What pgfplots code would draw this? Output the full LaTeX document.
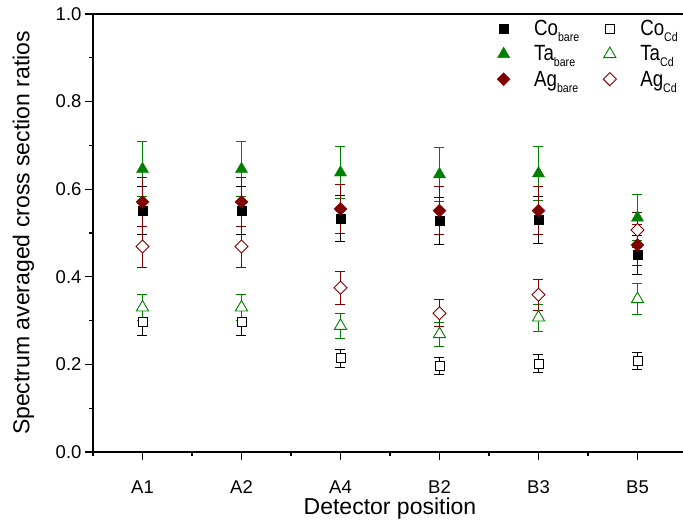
\documentclass[border=0pt]{standalone}
\usepackage{pgfplots}
\usepackage{pgfplotstable}
\pgfplotsset{compat=1.18}
\usepackage{fontspec}
\setmainfont{Liberation Sans}
\newfontfamily\legfont[FakeStretch=0.85]{Liberation Sans}
\definecolor{tagreen}{RGB}{0,128,0}
\definecolor{agred}{RGB}{128,0,0}
\newcommand\sub[1]{\raisebox{-6pt}{\fontsize{12.5}{12.5}\selectfont #1}}

\pgfplotstableread{
x cob   cobe  tab   tabe  agb   agbe  cocd  cocde tacd  tacde agcd  agcde
0 0.551 0.055 0.646 0.063 0.571 0.057 0.296 0.029 0.330 0.030 0.469 0.047
1 0.551 0.055 0.646 0.063 0.571 0.057 0.296 0.029 0.330 0.030 0.469 0.047
2 0.533 0.053 0.638 0.060 0.555 0.055 0.214 0.021 0.288 0.028 0.375 0.037
3 0.528 0.053 0.634 0.061 0.551 0.055 0.196 0.019 0.269 0.027 0.317 0.031
4 0.530 0.053 0.636 0.061 0.551 0.055 0.202 0.020 0.307 0.031 0.359 0.036
5 0.450 0.045 0.535 0.053 0.473 0.046 0.208 0.020 0.349 0.035 0.507 0.040
}\data

\begin{document}
\begin{tikzpicture}
\useasboundingbox (-93pt,-77pt) rectangle (590pt,452pt);
\begin{axis}[
  at={(0pt,0pt)}, anchor=south west,
  scale only axis, width=594pt, height=438pt,
  xmin=-0.5, xmax=5.5, ymin=0, ymax=1,
  xtick={0,1,2,3,4,5}, xticklabels={A1,A2,A4,B2,B3,B5},
  minor xtick={-0.5,0.5,1.5,2.5,3.5,4.5,5.5},
  ytick={0,0.2,0.4,0.6,0.8,1.0}, minor ytick={0.1,0.3,0.5,0.7,0.9},
  xtick pos=bottom, ytick pos=left, tick align=outside,
  major tick length=8pt, minor tick length=4pt,
  axis line style={line width=1.2pt},
  tick style={line width=1.1pt, black},
  /pgf/number format/assume math mode=true,
  yticklabel style={/pgf/number format/.cd, fixed, fixed zerofill, precision=1},
  tick label style={font=\fontsize{18.5}{18.5}\selectfont},
  xticklabel style={yshift=-17pt},
  label style={font=\fontsize{23}{26}\selectfont},
  xlabel={Detector position},
  ylabel={Spectrum averaged cross section ratios},
  xlabel style={at={(axis description cs:0.5,-0.128)}, anchor=center},
  ylabel style={at={(axis description cs:-0.117,0.5)}, anchor=center},
  legend columns=2,
  legend cell align=left,
  legend style={draw=none, fill=none, at={(0.675,0.995)}, anchor=north west,
    font=\legfont\fontsize{22}{23}\selectfont, row sep=4.5pt,
    /tikz/every even column/.append style={column sep=22pt},
    /tikz/every odd column/.append style={column sep=22pt}},
  error bars/y dir=both, error bars/y explicit,
  error bars/error bar style={line width=0.8pt},
  error bars/error mark options={rotate=90, mark size=5pt, line width=0.8pt},
]
\addplot[only marks, black, mark=square*, mark size=4.5pt, mark options={fill=black}]
  table[x=x, y=cob, y error=cobe] {\data};
\addlegendentry{Co\sub{bare}}
\addplot[only marks, black, mark=square*, mark size=4.5pt, mark options={fill=white, line width=0.9pt}]
  table[x=x, y=cocd, y error=cocde] {\data};
\addlegendentry{Co\sub{Cd}}
\addplot[only marks, tagreen, mark=triangle*, mark size=7pt, mark options={fill=tagreen}]
  table[x=x, y=tab, y error=tabe] {\data};
\addlegendentry{Ta\sub{bare}}
\addplot[only marks, tagreen, mark=triangle*, mark size=7pt, mark options={fill=white, line width=0.9pt}]
  table[x=x, y=tacd, y error=tacde] {\data};
\addlegendentry{Ta\sub{Cd}}
\addplot[only marks, agred, mark=square*, mark size=4.6pt, mark options={rotate=45, fill=agred}]
  table[x=x, y=agb, y error=agbe] {\data};
\addlegendentry{Ag\sub{bare}}
\addplot[only marks, agred, mark=square*, mark size=4.6pt, mark options={rotate=45, fill=white, line width=0.9pt}]
  table[x=x, y=agcd, y error=agcde] {\data};
\addlegendentry{Ag\sub{Cd}}
\end{axis}
\end{tikzpicture}
\end{document}
